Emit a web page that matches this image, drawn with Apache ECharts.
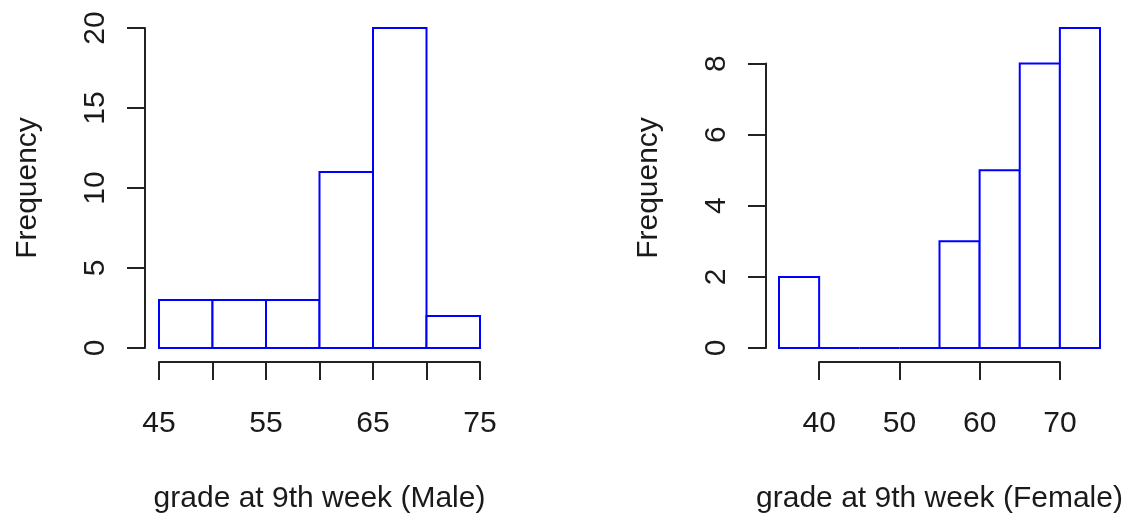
<!DOCTYPE html>
<html><head><meta charset="utf-8">
<script src="https://cdn.jsdelivr.net/npm/echarts@6/dist/echarts.min.js"></script>
<style>html,body{margin:0;padding:0;background:#fff}#c{width:1128px;height:514px}</style>
</head><body><div id="c"></div>
<script>
// ---- data ----
const maleBreaks = [45, 50, 55, 60, 65, 70, 75];
const maleCounts = [3, 3, 3, 11, 20, 2];
const femaleBreaks = [35, 40, 45, 50, 55, 60, 65, 70, 75];
const femaleCounts = [2, 0, 0, 0, 3, 5, 8, 9];
const maleXTicks = [45, 50, 55, 60, 65, 70, 75];
const maleXTickLabels = ['45', '55', '65', '75'];
const maleYTicks = [0, 5, 10, 15, 20];
const femaleXTicks = [40, 50, 60, 70];
const femaleXTickLabels = ['40', '50', '60', '70'];
const femaleYTicks = [0, 2, 4, 6, 8];
const maleXTitle = 'grade at 9th week (Male)';
const femaleXTitle = 'grade at 9th week (Female)';
const yTitle = 'Frequency';

// ---- layout / style ----
const FONT = 'Liberation Sans, Arial, sans-serif';
const FS = 30;
const TXT = '#1a1a1a';
const AX = '#222';
const panels = [
  {breaks: maleBreaks, counts: maleCounts, xTicks: maleXTicks, xLabels: maleXTickLabels, yTicks: maleYTicks, xTitle: maleXTitle,
   L: 159, T: 28, W: 321, H: 320, yOff: 14},
  {breaks: femaleBreaks, counts: femaleCounts, xTicks: femaleXTicks, xLabels: femaleXTickLabels, yTicks: femaleYTicks, xTitle: femaleXTitle,
   L: 779, T: 28, W: 321, H: 320, yOff: 13}
];
const X_OFF = 14;

const grid = [], xAxis = [], yAxis = [], series = [];

function renderItem(params, api) {
  const p0 = api.coord([api.value(0), 0]);
  const p1 = api.coord([api.value(1), api.value(2)]);
  return {
    type: 'rect',
    shape: {x: p0[0], y: p1[1], width: p1[0] - p0[0], height: p0[1] - p1[1]},
    style: {fill: '#ffffff', stroke: '#0000ff', lineWidth: 2}
  };
}

const hidden = {axisLine: {show: false, onZero: false}, axisTick: {show: false}, axisLabel: {show: false}, splitLine: {show: false}};
const gridBase = {containLabel: false, outerBoundsMode: 'none'};

panels.forEach((p, i) => {
  const xMin = p.breaks[0], xMax = p.breaks[p.breaks.length - 1];
  const yMax = Math.max.apply(null, p.counts);
  const g0 = grid.length;
  // data grid
  grid.push(Object.assign({left: p.L, top: p.T, width: p.W, height: p.H}, gridBase));
  // x-axis grid (tick range horizontally)
  const xt0 = p.xTicks[0], xt1 = p.xTicks[p.xTicks.length - 1];
  grid.push(Object.assign({left: p.L + (xt0 - xMin) / (xMax - xMin) * p.W, top: p.T,
             width: (xt1 - xt0) / (xMax - xMin) * p.W, height: p.H}, gridBase));
  // y-axis grid (tick range vertically)
  const yt1 = p.yTicks[p.yTicks.length - 1];
  const hy = yt1 / yMax * p.H;
  grid.push(Object.assign({left: p.L, top: p.T + p.H - hy, width: p.W, height: hy}, gridBase));

  const nameStyle = {fontFamily: FONT, fontSize: FS, color: TXT};
  // data axes (hidden, carry titles)
  xAxis.push(Object.assign({type: 'value', gridIndex: g0, min: xMin, max: xMax, offset: X_OFF,
    name: p.xTitle, nameLocation: 'middle', nameGap: 122, nameTextStyle: nameStyle}, hidden));
  yAxis.push(Object.assign({type: 'value', gridIndex: g0, min: 0, max: yMax, offset: p.yOff,
    name: yTitle, nameLocation: 'middle', nameRotate: 90, nameGap: 102, nameTextStyle: nameStyle}, hidden));
  // visible x axis
  const labSet = p.xLabels;
  xAxis.push({type: 'value', gridIndex: g0 + 1, min: xt0, max: xt1, interval: p.xTicks[1] - p.xTicks[0], offset: X_OFF,
    axisLine: {show: true, onZero: false, lineStyle: {color: AX, width: 2}},
    axisTick: {show: true, length: 18, lineStyle: {color: AX, width: 2}},
    splitLine: {show: false},
    axisLabel: {margin: 47, fontFamily: FONT, fontSize: FS, color: TXT, showMinLabel: true, showMaxLabel: true, hideOverlap: false,
      formatter: v => labSet.indexOf(String(v)) >= 0 ? String(v) : ''}});
  yAxis.push(Object.assign({type: 'value', gridIndex: g0 + 1, min: 0, max: yMax}, hidden));
  // visible y axis
  xAxis.push(Object.assign({type: 'value', gridIndex: g0 + 2, min: xMin, max: xMax}, hidden));
  yAxis.push({type: 'value', gridIndex: g0 + 2, min: 0, max: yt1, interval: p.yTicks[1] - p.yTicks[0], offset: p.yOff,
    axisLine: {show: true, onZero: false, lineStyle: {color: AX, width: 2}},
    axisTick: {show: true, length: 18, lineStyle: {color: AX, width: 2}},
    splitLine: {show: false},
    axisLabel: {margin: 34, rotate: 90, fontFamily: FONT, fontSize: FS, color: TXT, showMinLabel: true, showMaxLabel: true}});

  const data = p.counts.map((c, k) => [p.breaks[k], p.breaks[k + 1], c]);
  series.push({type: 'custom', xAxisIndex: g0, yAxisIndex: g0, renderItem: renderItem,
    encode: {x: [0, 1], y: 2}, data: data, animation: false, clip: false});
});

const chart = echarts.init(document.getElementById('c'), null, {renderer: 'canvas'});
chart.setOption({backgroundColor: '#ffffff', animation: false, grid, xAxis, yAxis, series});
</script>
</body></html>
